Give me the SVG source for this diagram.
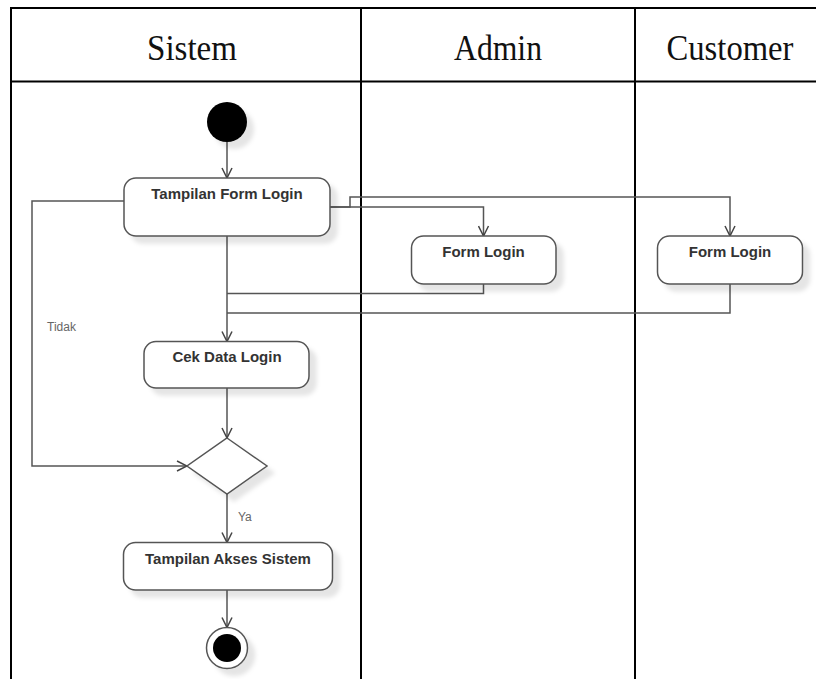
<svg xmlns="http://www.w3.org/2000/svg" width="816" height="679" viewBox="0 0 816 679">
  <defs>
    <filter id="shadow" x="-20%" y="-20%" width="150%" height="160%">
      <feDropShadow dx="7" dy="7" stdDeviation="2" flood-color="#000" flood-opacity="0.1"/>
    </filter>
    <marker id="arrow" viewBox="0 0 12 12" refX="11" refY="6" markerWidth="12" markerHeight="12" markerUnits="userSpaceOnUse" orient="auto">
      <path d="M1,1 L11,6 L1,11" fill="none" stroke="#444" stroke-width="1.5"/>
    </marker>
    <style>
      .lane { stroke: #000; stroke-width: 2; fill: none; }
      .head { font-family: "Liberation Serif", "DejaVu Serif", serif; font-size: 35px; fill: #111; text-anchor: middle; }
      .act { fill: #fff; stroke: #555; stroke-width: 1.5; filter: url(#shadow); }
      .label { font-family: "Liberation Sans", Arial, sans-serif; font-size: 15px; font-weight: bold; fill: #333; text-anchor: middle; }
      .guard { font-family: "Liberation Sans", Arial, sans-serif; font-size: 12px; fill: #666; }
      .flow { fill: none; stroke: #555; stroke-width: 1.5; }
      .arr { marker-end: url(#arrow); }
    </style>
  </defs>

  <rect width="816" height="679" fill="#fff"/>

  <!-- swimlane frame -->
  <g id="lanes">
    <line class="lane" x1="10" y1="8" x2="816" y2="8" stroke-width="2.5"/>
    <line class="lane" x1="10" y1="81.5" x2="816" y2="81.5"/>
    <line class="lane" x1="11" y1="7" x2="11" y2="679"/>
    <line class="lane" x1="361" y1="8" x2="361" y2="679"/>
    <line class="lane" x1="635" y1="8" x2="635" y2="679"/>
    <text class="head" x="192" y="60" textLength="90" lengthAdjust="spacingAndGlyphs">Sistem</text>
    <text class="head" x="498" y="60" textLength="88" lengthAdjust="spacingAndGlyphs">Admin</text>
    <text class="head" x="730" y="60" textLength="127" lengthAdjust="spacingAndGlyphs">Customer</text>
  </g>

  <!-- control flows -->
  <g id="connectors">
    <path class="flow arr" d="M227,142 V178"/>
    <path class="flow arr" d="M330,207 H483.5 V236"/>
    <path class="flow arr" d="M330,207 H350 V197 H730 V236"/>
    <path class="flow arr" d="M227,236 V341.5"/>
    <path class="flow" d="M483.5,284 V293.5 H227"/>
    <path class="flow" d="M730,284 V313 H227"/>
    <path class="flow arr" d="M227,388 V438"/>
    <path class="flow arr" d="M124,201 H32 V466 H187"/>
    <path class="flow arr" d="M227,494 V542.5"/>
    <path class="flow arr" d="M227,590 V627.5"/>
    <text class="guard" x="47" y="331">Tidak</text>
    <text class="guard" x="238" y="521">Ya</text>
  </g>

  <g id="start">
    <circle cx="227" cy="122" r="20" fill="#000" filter="url(#shadow)"/>
  </g>

  <g id="tampilan-form-login">
    <rect class="act" x="124" y="178" width="206" height="58" rx="12"/>
    <text class="label" x="227" y="199">Tampilan Form Login</text>
  </g>

  <g id="form-login-admin">
    <rect class="act" x="411.5" y="236" width="144.5" height="48" rx="12"/>
    <text class="label" x="483.5" y="256.5">Form Login</text>
  </g>

  <g id="form-login-customer">
    <rect class="act" x="657.5" y="236" width="145" height="48" rx="12"/>
    <text class="label" x="730" y="256.5">Form Login</text>
  </g>

  <g id="cek-data-login">
    <rect class="act" x="144" y="341.5" width="165" height="46.5" rx="12"/>
    <text class="label" x="227" y="361.5">Cek Data Login</text>
  </g>

  <g id="decision">
    <polygon class="act" points="227,438 267,466 227,494 187,466"/>
  </g>

  <g id="tampilan-akses-sistem">
    <rect class="act" x="123.5" y="542.5" width="209" height="47.5" rx="12"/>
    <text class="label" x="228" y="564">Tampilan Akses Sistem</text>
  </g>

  <g id="end">
    <circle cx="227" cy="648" r="20.5" fill="#fff" stroke="#555" stroke-width="1.5" filter="url(#shadow)"/>
    <circle cx="227" cy="648" r="14" fill="#000"/>
  </g>
</svg>
